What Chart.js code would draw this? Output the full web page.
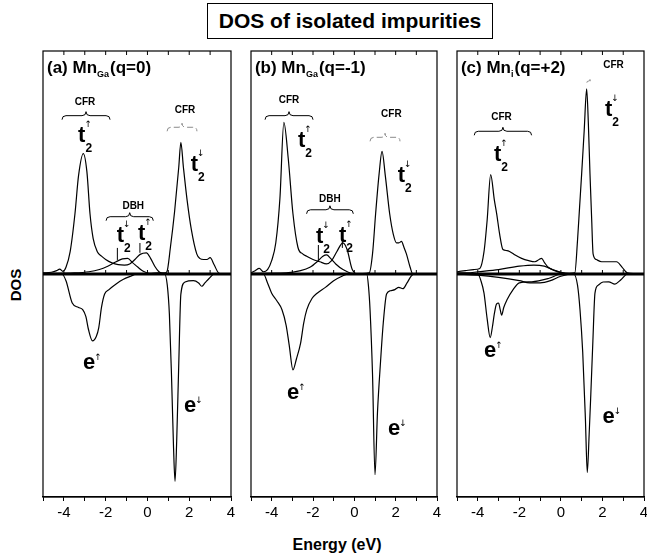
<!DOCTYPE html>
<html>
<head>
<meta charset="utf-8">
<script src="https://cdn.jsdelivr.net/npm/chart.js@4.4.0/dist/chart.umd.min.js"></script>
<style>
  body { margin: 0; width: 647px; height: 559px; background: #fff; position: relative; overflow: hidden; font-family: "Liberation Sans", Arial, sans-serif; }
  canvas { position: absolute; }
  #title { position: absolute; left: 207px; top: 3px; width: 284px; height: 34px; border: 1.5px solid #000; font-weight: bold; font-size: 21px; line-height: 34px; text-align: center; }
  #ylabel { position: absolute; left: 15px; top: 285px; transform: translate(-50%, -50%) rotate(-90deg); font-weight: bold; font-size: 15px; }
  #xlabel { position: absolute; left: 337px; top: 545px; transform: translate(-50%, -50%); font-weight: bold; font-size: 16px; }
</style>
</head>
<body>
<div id="title">DOS of isolated impurities</div>
<div id="ylabel">DOS</div>
<div id="xlabel">Energy (eV)</div>
<canvas id="panel-a" width="212" height="478" style="left:31px;top:49px"></canvas>
<canvas id="panel-b" width="210" height="478" style="left:239px;top:49px"></canvas>
<canvas id="panel-c" width="211" height="478" style="left:445px;top:49px"></canvas>
<script>
const X_MIN = -5;
const X_MAX = 4;
const TICK_LABELS = [-4, -2, 0, 2, 4];

// (a) MnGa q=0  -- energy (eV) and DOS (arb. units, +/-100 = panel edge)
const A_T2_UP_E = [-5, -4.6, -4.35, -4.2, -4.05, -3.9, -3.7, -3.47, -3.3, -3.07, -2.9, -2.75, -2.6, -2.4, -2.2, -2.0, -1.7, -1.4, -1.1, -0.85, -0.6, -0.35, -0.05, 0.15, 0.35, 0.55, 0.8, 4];
const A_T2_UP = [0.5, 0.8, 1.5, 2.2, 1.2, 3, 10, 27, 44, 54, 46, 27, 16, 10, 8, 6.5, 5, 4.2, 4, 4.5, 6.5, 8.8, 9.5, 7, 3.5, 1, 0, 0];
const A_T2_DN_E = [-5, -3.5, -2.8, -2.3, -1.9, -1.5, -1.2, -0.95, -0.7, -0.45, -0.2, 0.1, 0.5, 0.8, 0.93, 1.1, 1.3, 1.5, 1.6, 1.72, 1.9, 2.1, 2.36, 2.5, 2.7, 2.85, 3.0, 3.2, 3.4, 3.6, 4];
const A_T2_DN = [0.3, 0.5, 1, 2, 3.5, 5.5, 6.8, 7, 5, 3, 1.2, 0.3, 0.5, 0.5, 1, 12, 28, 48, 59, 48, 33, 20, 9, 7, 6.5, 6.5, 7.3, 4, 0.5, 0, 0];
const A_E_UP_E = [-5, -4.1, -3.9, -3.6, -3.3, -3.1, -2.95, -2.82, -2.63, -2.45, -2.33, -2.2, -2.05, -1.84, -1.5, -1.17, -0.8, -0.5, 4];
const A_E_UP = [0, 0, -3, -13, -15, -16, -19, -25, -30, -28, -24, -15, -9, -7, -4.5, -2.5, -1, 0, 0];
const A_E_DN_E = [-5, 0.82, 0.95, 1.05, 1.15, 1.25, 1.32, 1.4, 1.5, 1.6, 1.8, 2.2, 2.45, 2.6, 2.75, 2.95, 3.2, 4];
const A_E_DN = [0, 0, -5, -18, -45, -78, -93, -75, -40, -9, -3.6, -3, -4, -5.5, -4, -2, 0, 0];

// (b) MnGa q=-1
const B_T2_UP_E = [-5, -4.8, -4.6, -4.4, -4.2, -4.0, -3.8, -3.6, -3.41, -3.2, -2.97, -2.73, -2.5, -2.31, -2.0, -1.67, -1.35, -1.1, -0.85, -0.55, -0.35, -0.1, 0.2, 4];
const B_T2_UP = [0.5, 1.5, 2.5, 1, 2, 6, 14, 34, 68, 52, 27, 12, 9, 8, 6.5, 5.5, 4.5, 6, 10, 14, 11, 2, 0, 0];
const B_T2_DN_E = [-5, -3.3, -2.6, -2.15, -1.8, -1.52, -1.34, -1.15, -0.9, -0.55, -0.1, 0.4, 0.72, 0.88, 1.03, 1.2, 1.34, 1.5, 1.71, 1.88, 2.04, 2.16, 2.28, 2.4, 2.52, 2.7, 2.83, 4];
const B_T2_DN = [0.3, 0.5, 1.5, 3, 5.5, 8, 8.6, 7, 4.5, 2, 0.3, 0.2, 0.5, 9, 27, 45, 55, 44, 27, 18, 14, 14, 14.6, 12, 9, 3, 0, 0];
const B_E_UP_E = [-5, -4.4, -4.2, -4.0, -3.75, -3.5, -3.3, -3.15, -2.97, -2.8, -2.6, -2.45, -2.3, -2.05, -1.8, -1.4, -1.0, -0.6, -0.3, 4];
const B_E_UP = [0, 0, -4, -8.6, -12, -16, -23, -32, -43, -38, -31, -22, -16, -11, -8.6, -6, -3, -1, 0, 0];
const B_E_DN_E = [-5, 0.6, 0.68, 0.76, 0.88, 1.0, 1.12, 1.27, 1.4, 1.56, 1.75, 1.96, 2.15, 2.35, 2.55, 2.75, 2.9, 4];
const B_E_DN = [0, 0, -5, -16, -45, -90, -62, -39, -22, -9, -7.5, -7, -6, -6.6, -4, -1, 0, 0];

// (c) Mni q=+2
const C_T2_UP_E = [-5, -4.6, -4.2, -3.9, -3.7, -3.55, -3.38, -3.2, -3.09, -2.95, -2.79, -2.6, -2.45, -2.2, -1.89, -1.55, -1.25, -1.05, -0.93, -0.78, -0.61, -0.3, 0.03, 0.3, 4];
const C_T2_UP = [1, 1.5, 2, 2.5, 10, 24, 44.6, 33, 27, 18, 11, 10.5, 10, 8.5, 7, 6, 5.5, 6.5, 7, 5, 3, 1.5, 0.5, 0, 0];
const C_T2_DN_E = [-5, -4.5, -4.0, -3.0, -2.0, -1.3, -0.8, -0.4, 0.0, 0.4, 0.67, 0.8, 0.9, 1.0, 1.12, 1.24, 1.32, 1.4, 1.48, 1.55, 1.7, 1.96, 2.3, 2.68, 2.95, 3.2, 4];
const C_T2_DN = [0.5, 0.5, 1, 2, 3.5, 4, 3.5, 2, 0.8, 0.3, 0.5, 15, 30, 45, 64, 83, 68, 45, 25, 9, 6.5, 5.5, 5.5, 5.5, 3, 0.5, 0];
const C_E_UP_E = [-5, -4.0, -3.85, -3.7, -3.55, -3.4, -3.3, -3.2, -3.1, -3.0, -2.92, -2.85, -2.75, -2.6, -2.3, -2.0, -1.4, -0.6, 0.05, 4];
const C_E_UP = [0, 0, -3, -8.6, -20, -28.5, -24, -17.7, -13.5, -13, -16, -18.5, -15, -11.7, -7, -4, -3.5, -2, 0, 0];
const C_E_DN_E = [-5, -4.0, -3.0, -2.0, -1.5, -1.0, -0.5, 0.0, 0.62, 0.8, 0.92, 1.05, 1.18, 1.27, 1.36, 1.44, 1.54, 1.64, 1.8, 2.03, 2.3, 2.6, 2.9, 3.2, 4];
const C_E_DN = [0, -0.5, -1.5, -3, -4, -4, -3, -1, 0, -5, -16, -35, -65, -89, -72, -54, -30, -8.6, -5, -3.6, -3.5, -4.5, -2.5, 0, 0];

// labels, placed in data coordinates
const NOTES_A = [
  { kind: 'title', x: -4.81, y: 90, parts: [['(a) Mn'], ['Ga', 'sub'], ['(q=0)']] },
  { kind: 'text', x: -2.99, y: 75.7, text: 'CFR' },
  { kind: 'brace', x0: -4.09, x1: -1.79, y: 71 },
  { kind: 'sym', x: -3.32, y: 59, base: 't', sub: '2', sup: '↑' },
  { kind: 'text', x: 1.8, y: 72, text: 'CFR' },
  { kind: 'brace', x0: 0.94, x1: 2.37, y: 65.8, gray: true },
  { kind: 'sym', x: 2.07, y: 46.4, base: 't', sub: '2', sup: '↓' },
  { kind: 'text', x: -0.68, y: 29.3, text: 'DBH' },
  { kind: 'brace', x0: -1.98, x1: 0.28, y: 25.7 },
  { kind: 'sym', x: -1.47, y: 14.4, base: 't', sub: '2', sup: '↓' },
  { kind: 'sym', x: -0.45, y: 15.3, base: 't', sub: '2', sup: '↑' },
  { kind: 'line', x: -1.44, y0: 11.7, y1: 6.3 },
  { kind: 'line', x: -0.36, y0: 13.9, y1: 9.5 },
  { kind: 'sym', x: -3.09, y: -42.8, base: 'e', sup: '↑' },
  { kind: 'sym', x: 1.75, y: -61.7, base: 'e', sup: '↓' },
];
const NOTES_B = [
  { kind: 'title', x: -4.81, y: 90, parts: [['(b) Mn'], ['Ga', 'sub'], ['(q=-1)']] },
  { kind: 'text', x: -3.16, y: 76.6, text: 'CFR' },
  { kind: 'brace', x0: -4.32, x1: -2.0, y: 71 },
  { kind: 'sym', x: -2.73, y: 56.8, base: 't', sub: '2', sup: '↑' },
  { kind: 'text', x: 1.79, y: 70.3, text: 'CFR' },
  { kind: 'brace', x0: 0.76, x1: 2.21, y: 61.3, gray: true },
  { kind: 'sym', x: 2.1, y: 41.4, base: 't', sub: '2', sup: '↓' },
  { kind: 'text', x: -1.18, y: 32.4, text: 'DBH' },
  { kind: 'brace', x0: -2.31, x1: -0.05, y: 28.8 },
  { kind: 'sym', x: -1.86, y: 14, base: 't', sub: '2', sup: '↓' },
  { kind: 'sym', x: -0.74, y: 14.4, base: 't', sub: '2', sup: '↑' },
  { kind: 'line', x: -1.74, y0: 13, y1: 5.4 },
  { kind: 'line', x: -0.58, y0: 16.2, y1: 11.7 },
  { kind: 'sym', x: -3.26, y: -56, base: 'e', sup: '↑' },
  { kind: 'sym', x: 1.63, y: -72, base: 'e', sup: '↓' },
];
const NOTES_C = [
  { kind: 'title', x: -4.81, y: 90, parts: [['(c) Mn'], ['i', 'sub'], ['(q=+2)']] },
  { kind: 'text', x: 2.53, y: 92.3, text: 'CFR' },
  { kind: 'brace', x0: 1.25, x1: 1.55, y: 86.5, gray: true },
  { kind: 'sym', x: 2.12, y: 70.7, base: 't', sub: '2', sup: '↓' },
  { kind: 'text', x: -2.86, y: 69, text: 'CFR' },
  { kind: 'brace', x0: -4.17, x1: -1.41, y: 64 },
  { kind: 'sym', x: -3.22, y: 50.5, base: 't', sub: '2', sup: '↑' },
  { kind: 'sym', x: -3.7, y: -37, base: 'e', sup: '↑' },
  { kind: 'sym', x: 2.0, y: -67, base: 'e', sup: '↓' },
];

const FONT = '"Liberation Sans", Arial, sans-serif';

function series(xs, ys) {
  return {
    data: xs.map((x, i) => ({ x, y: ys[i] })),
    borderColor: '#000',
    borderWidth: 1.2,
    pointRadius: 0,
    fill: false,
    cubicInterpolationMode: 'monotone',
  };
}

function drawBrace(ctx, x0, x1, y, gray) {
  const h = Math.min(4, (x1 - x0) / 4);
  const xm = (x0 + x1) / 2;
  ctx.save();
  ctx.strokeStyle = gray ? '#8a8a8a' : '#000';
  ctx.lineWidth = 1;
  if (gray) ctx.setLineDash([6, 3]);
  ctx.beginPath();
  ctx.moveTo(x0, y + h);
  ctx.quadraticCurveTo(x0, y, x0 + h, y);
  ctx.lineTo(xm - h, y);
  ctx.quadraticCurveTo(xm, y, xm, y - h);
  ctx.quadraticCurveTo(xm, y, xm + h, y);
  ctx.lineTo(x1 - h, y);
  ctx.quadraticCurveTo(x1, y, x1, y + h);
  ctx.stroke();
  ctx.restore();
}

function drawSym(ctx, x, y, n) {
  ctx.font = `bold 22px ${FONT}`;
  ctx.fillText(n.base, x, y);
  const w = ctx.measureText(n.base).width;
  if (n.sub) {
    ctx.font = `bold 12px ${FONT}`;
    ctx.fillText(n.sub, x + w, y + 10);
  }
  if (n.sup) {
    ctx.font = `9px "DejaVu Sans"`;
    ctx.fillText(n.sup, x + w - 1, y - (n.base === 't' ? 15 : 9));
  }
}

const framePlugin = {
  id: 'frame',
  afterDatasetsDraw(chart, args, opts) {
    const { ctx, chartArea: a, scales: { x: sx, y: sy } } = chart;
    ctx.save();
    ctx.strokeStyle = '#000';
    ctx.fillStyle = '#000';
    ctx.lineWidth = 1.2;
    ctx.strokeRect(a.left, a.top, a.right - a.left, a.bottom - a.top);

    const y0 = sy.getPixelForValue(0);
    ctx.lineWidth = 3;
    ctx.beginPath();
    ctx.moveTo(a.left, y0);
    ctx.lineTo(a.right, y0);
    ctx.stroke();

    ctx.lineWidth = 1;
    for (let v = X_MIN + 1; v < X_MAX; v++) {
      const px = sx.getPixelForValue(v);
      ctx.beginPath();
      ctx.moveTo(px, a.top);
      ctx.lineTo(px, a.top + 4);
      ctx.moveTo(px, y0);
      ctx.lineTo(px, y0 - 4);
      ctx.stroke();
    }

    ctx.textBaseline = 'alphabetic';
    (opts.notes || []).forEach((n) => {
      if (n.kind === 'brace') {
        drawBrace(ctx, sx.getPixelForValue(n.x0), sx.getPixelForValue(n.x1), sy.getPixelForValue(n.y), n.gray);
        return;
      }
      if (n.kind === 'line') {
        const px = sx.getPixelForValue(n.x);
        ctx.lineWidth = 1;
        ctx.beginPath();
        ctx.moveTo(px, sy.getPixelForValue(n.y0));
        ctx.lineTo(px, sy.getPixelForValue(n.y1));
        ctx.stroke();
        return;
      }
      const px = sx.getPixelForValue(n.x);
      const py = sy.getPixelForValue(n.y);
      if (n.kind === 'text') {
        ctx.font = `bold 10px ${FONT}`;
        ctx.textAlign = 'center';
        ctx.fillText(n.text, px, py);
        ctx.textAlign = 'left';
      } else if (n.kind === 'title') {
        let cx = px;
        ctx.textAlign = 'left';
        n.parts.forEach(([t, mode]) => {
          ctx.font = mode === 'sub' ? `bold 9px ${FONT}` : `bold 17px ${FONT}`;
          ctx.fillText(t, cx, mode === 'sub' ? py + 4 : py);
          cx += ctx.measureText(t).width + (mode === 'sub' ? 1 : 0);
        });
      } else if (n.kind === 'sym') {
        ctx.textAlign = 'left';
        drawSym(ctx, px, py, n);
      }
    });
    ctx.restore();
  },
};

function makePanel(id, curves, notes) {
  return new Chart(document.getElementById(id), {
    type: 'line',
    data: { datasets: curves },
    options: {
      responsive: false,
      animation: false,
      devicePixelRatio: 1,
      layout: { padding: { left: 12, right: 12, top: 2, bottom: 0 } },
      plugins: { legend: { display: false }, tooltip: { enabled: false }, frame: { notes } },
      scales: {
        x: {
          type: 'linear',
          min: X_MIN,
          max: X_MAX,
          afterFit: (s) => { s.height = 30; },
          border: { display: true, color: '#000', width: 1.2 },
          grid: { drawOnChartArea: false, drawTicks: true, tickLength: 4, color: '#000' },
          ticks: {
            stepSize: 1,
            autoSkip: false,
            maxRotation: 0,
            padding: 3,
            color: '#000',
            font: { family: FONT, size: 15 },
            callback: (v) => (TICK_LABELS.includes(v) ? String(v) : ''),
          },
        },
        y: { display: false, min: -100, max: 100 },
      },
    },
    plugins: [framePlugin],
  });
}

makePanel('panel-a', [
  series(A_T2_UP_E, A_T2_UP), series(A_T2_DN_E, A_T2_DN),
  series(A_E_UP_E, A_E_UP), series(A_E_DN_E, A_E_DN),
], NOTES_A);
makePanel('panel-b', [
  series(B_T2_UP_E, B_T2_UP), series(B_T2_DN_E, B_T2_DN),
  series(B_E_UP_E, B_E_UP), series(B_E_DN_E, B_E_DN),
], NOTES_B);
makePanel('panel-c', [
  series(C_T2_UP_E, C_T2_UP), series(C_T2_DN_E, C_T2_DN),
  series(C_E_UP_E, C_E_UP), series(C_E_DN_E, C_E_DN),
], NOTES_C);
</script>
</body>
</html>
